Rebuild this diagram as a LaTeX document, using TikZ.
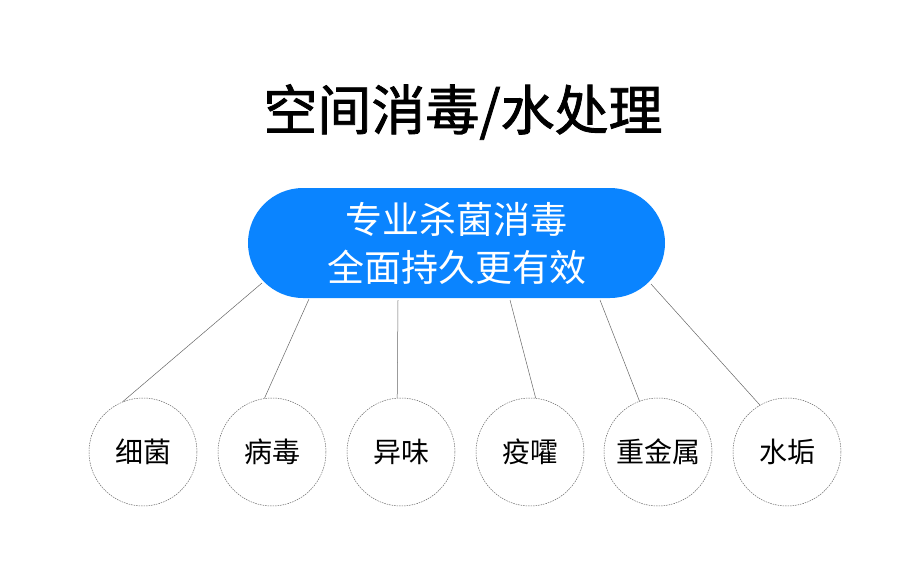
\documentclass[tikz,border=0pt]{standalone}
\usepackage{fontspec}
\setmainfont{Noto Sans CJK SC}
\newfontfamily\titlefont{Noto Sans CJK SC}[FakeBold=1.5]
\definecolor{pillblue}{HTML}{0A84FF}
\begin{document}
\begin{tikzpicture}[x=1pt,y=-1pt,
  item/.style={circle,draw=gray!80!black,dash pattern=on 1.5pt off 1pt,line width=0.5pt,minimum size=108pt,inner sep=0pt,font=\fontsize{28}{30}\selectfont},
  link/.style={draw=gray!80!black,line width=0.5pt}]
\useasboundingbox (0,0) rectangle (900,571);
\node[font=\titlefont\fontsize{54}{60}\selectfont] (title) at (463,112) {空间消毒/水处理};
\node[fill=pillblue,rounded rectangle/.style={},minimum width=417pt,minimum height=110pt,rounded corners=55pt,text=white,align=center,font=\fontsize{37}{48}\selectfont] (pill) at (456.5,243) {专业杀菌消毒\\全面持久更有效};
\foreach \n/\x/\t in {a/143/细菌,b/272/病毒,c/401/异味,d/530/疫嚯,e/658/重金属,f/787/水垢}
  \node[item] (\n) at (\x,452) {\t};
\coordinate (pa) at (262,283);
\coordinate (pb) at (309,299);
\coordinate (pc) at (398,300);
\coordinate (pd) at (510,300);
\coordinate (pe) at (600,300);
\coordinate (pf) at (651,284);
\draw[link] (pa) -- (a.112);
\draw[link] (pb) -- (b.98);
\draw[link] (pc) -- (c.94);
\draw[link] (pd) -- (d.84);
\draw[link] (pe) -- (e.110);
\draw[link] (pf) -- (f.120);
\end{tikzpicture}
\end{document}
